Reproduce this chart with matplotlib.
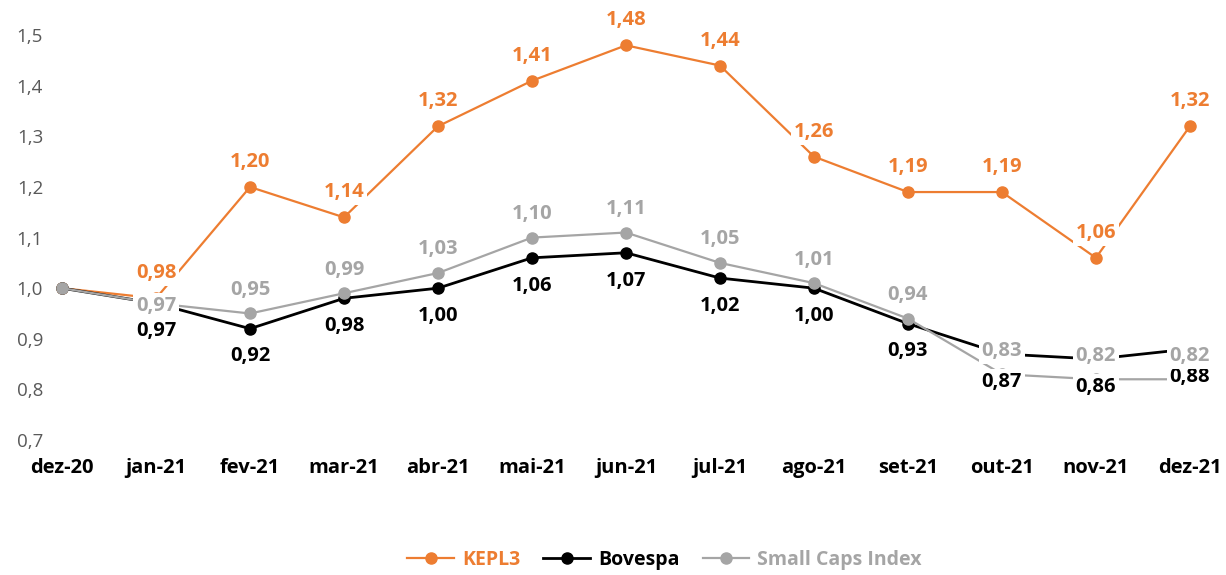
import matplotlib.pyplot as plt
from matplotlib.ticker import FuncFormatter

months = ["dez-20", "jan-21", "fev-21", "mar-21", "abr-21", "mai-21", "jun-21",
          "jul-21", "ago-21", "set-21", "out-21", "nov-21", "dez-21"]
kepl3 = [1.00, 0.98, 1.20, 1.14, 1.32, 1.41, 1.48, 1.44, 1.26, 1.19, 1.19, 1.06, 1.32]
bovespa = [1.00, 0.97, 0.92, 0.98, 1.00, 1.06, 1.07, 1.02, 1.00, 0.93, 0.87, 0.86, 0.88]
small_caps = [1.00, 0.97, 0.95, 0.99, 1.03, 1.10, 1.11, 1.05, 1.01, 0.94, 0.83, 0.82, 0.82]

ORANGE = "#ED7D31"
BLACK = "#000000"
GRAY = "#A5A5A5"

plt.rcParams["font.family"] = ["Open Sans", "DejaVu Sans"]

fig = plt.figure(figsize=(12.26, 5.75), dpi=100)
ax = fig.add_axes([0.0408, 0.2348, 0.942, 0.704])

x = list(range(len(months)))
ax.plot(x, kepl3, color=ORANGE, lw=1.6, marker="o", ms=8, label="KEPL3", zorder=3)
ax.plot(x, bovespa, color=BLACK, lw=2.0, marker="o", ms=8, label="Bovespa", zorder=3)
ax.plot(x, small_caps, color=GRAY, lw=1.6, marker="o", ms=8, label="Small Caps Index", zorder=3)

box = dict(boxstyle="square,pad=0.15", fc="white", ec="none")
LBL = 14.5


def fmt(v):
    return f"{v:.2f}".replace(".", ",")


# labels: KEPL3 above, Bovespa below, Small Caps above (skip the base month)
for i in x[1:]:
    ax.annotate(fmt(kepl3[i]), (i, kepl3[i]), xytext=(0, 18), textcoords="offset points",
                ha="center", va="center", color=ORANGE, fontsize=LBL, fontweight="bold",
                bbox=box, zorder=5)
    ax.annotate(fmt(bovespa[i]), (i, bovespa[i]), xytext=(0, -20), textcoords="offset points",
                ha="center", va="center", color=BLACK, fontsize=LBL, fontweight="bold",
                bbox=box, zorder=5)
    dy = -2 if i == 1 else 17
    ax.annotate(fmt(small_caps[i]), (i, small_caps[i]), xytext=(0, dy),
                textcoords="offset points", ha="center", va="center", color=GRAY,
                fontsize=LBL, fontweight="bold", bbox=box, zorder=6)

ax.set_xlim(-0.128, 12.16)
ax.set_ylim(0.7, 1.5)
ax.set_yticks([0.7, 0.8, 0.9, 1.0, 1.1, 1.2, 1.3, 1.4, 1.5])
ax.yaxis.set_major_formatter(FuncFormatter(lambda v, p: f"{v:.1f}".replace(".", ",")))
ax.set_xticks(x)
ax.set_xticklabels(months, fontweight="bold", fontsize=14.5)
ax.tick_params(axis="y", labelsize=13.5, labelcolor="#595959", length=0, pad=5)
ax.tick_params(axis="x", length=0, pad=13)
for s in ax.spines.values():
    s.set_visible(False)

leg = fig.legend(loc="center", bbox_to_anchor=(0.542, 0.026), ncol=3, frameon=False,
                 handlelength=2.4, columnspacing=1.2, handletextpad=0.4,
                 prop={"weight": "bold", "size": 14}, labelcolor="linecolor")

fig.savefig("out.png", dpi=100)
plt.close(fig)
